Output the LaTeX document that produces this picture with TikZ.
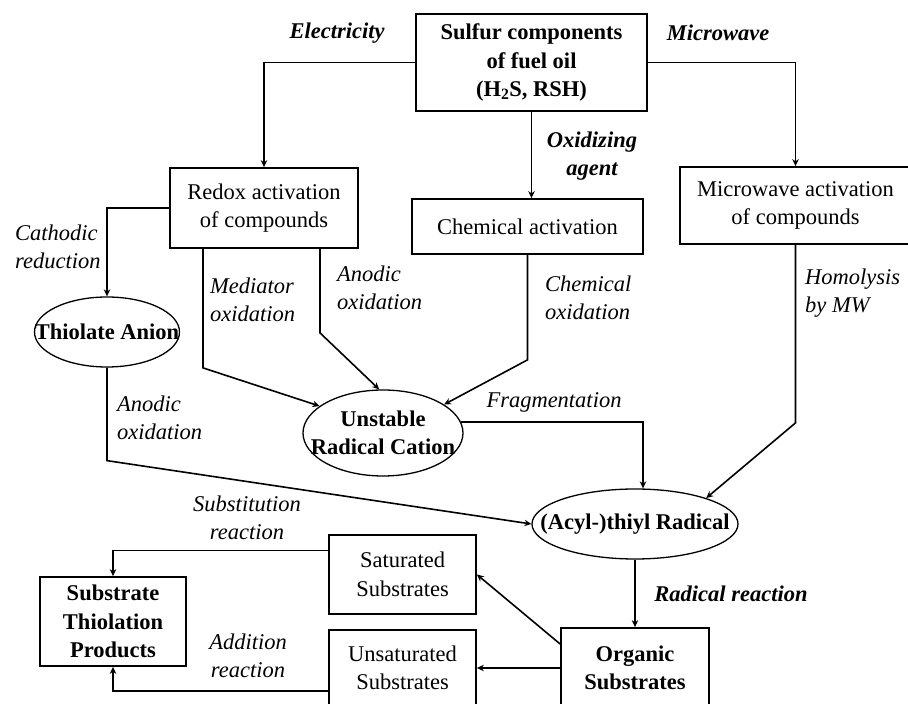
\documentclass[tikz,border=0pt]{standalone}
\usepackage{fontspec}
\setmainfont{Liberation Serif}
\usetikzlibrary{shapes.geometric,arrows.meta}

\begin{document}
\begin{tikzpicture}[
    x=1pt, y=1pt,
    >={Stealth[length=7pt,width=6.5pt]},
    every node/.style={font=\fontsize{22.5}{28.5}\selectfont},
    procbox/.style={
        draw,
        line width=1.8pt,
        align=center,
        inner sep=2pt
    },
    boldbox/.style={
        procbox,
        font=\fontsize{22.5}{28.5}\selectfont\bfseries
    },
    statenode/.style={
        draw,
        ellipse,
        line width=1.3pt,
        align=center,
        inner xsep=-22pt,
        inner ysep=0pt,
        font=\fontsize{22.5}{28.5}\selectfont\bfseries
    },
    lbl/.style={align=left, inner sep=2pt, font=\fontsize{22.5}{28.5}\selectfont\itshape},
    blbl/.style={align=center, inner sep=2pt, font=\fontsize{22.5}{28.5}\selectfont\bfseries\itshape},
    arr/.style={->, line width=1.6pt}
]
    \useasboundingbox (0,0) rectangle (908,704);
    \clip (0,0) rectangle (908,704);
    \fill[white] (0,0) rectangle (908,704);

    % Source and activation boxes
    \node[boldbox, minimum width=231pt, minimum height=97pt] (sulfur) at (531.5,641.5)
        {Sulfur components\\ of fuel oil\\ (H\textsubscript{2}S, RSH)};

    \node[procbox, minimum width=188pt, minimum height=80pt] (redox) at (264,496)
        {Redox activation\\ of compounds};

    \node[procbox, minimum width=231pt, minimum height=55pt] (chem) at (527.5,477.5)
        {Chemical activation};

    \node[procbox, minimum width=231pt, minimum height=77pt] (micro) at (795.5,498.5)
        {Microwave activation\\ of compounds};

    % Intermediates
    \node[statenode, minimum width=145pt, minimum height=70pt] (anion) at (107,372)
        {Thiolate Anion};

    \node[statenode, minimum width=160pt, minimum height=86pt] (cation) at (383,271)
        {Unstable\\ Radical Cation};

    \node[statenode, minimum width=206pt, minimum height=70pt] (thiyl) at (635,180)
        {(Acyl-)thiyl Radical};

    % Substrates and products
    \node[boldbox, minimum width=148pt, minimum height=80pt] (organic) at (635,36)
        {Organic\\ Substrates};

    \node[procbox, minimum width=147pt, minimum height=79pt] (sat) at (402.5,129.5)
        {Saturated\\ Substrates};

    \node[procbox, minimum width=147pt, minimum height=76pt] (unsat) at (402.5,36)
        {Unsaturated\\ Substrates};

    \node[boldbox, minimum width=146pt, minimum height=89pt] (thiolation) at (113,82.5)
        {Substrate\\ Thiolation\\ Products};

    % Activation arrows
    \draw[arr] (sulfur.west) -| (redox.north);
    \draw[arr] (sulfur.east) -| (micro.north);
    \draw[arr] (sulfur.south) -- (sulfur.south |- chem.north);

    % Arrows to the intermediates
    \draw[arr] (redox.west) -| (anion.north);
    \draw[arr] ([xshift=-61pt]redox.south) -- ++(0,-119) -- (cation.157);
    \draw[arr] ([xshift=56pt]redox.south) -- ++(0,-84) -- (cation.95);
    \draw[arr] (chem.south) -- ++(0,-105) -- (cation.25);
    \draw[arr] (cation.8) -| ([xshift=8pt]thiyl.north);
    \draw[arr] (micro.south) -- ++(0,-178) -- (thiyl.20);
    \draw[arr] (anion.south) -- ++(0,-93) -- (thiyl.west);

    % Reactions with the substrates
    \draw[arr] (thiyl.south) -- (organic.north);
    \draw[arr] ([yshift=24pt]organic.west) -- (sat.east);
    \draw[arr] (organic.west) -- (unsat.east);
    \draw[arr] ([yshift=24pt]sat.west) -| (thiolation.north);
    \draw[arr] ([yshift=-23pt]unsat.west) -| (thiolation.south);

    % Labels on the arrows
    \node[blbl] (electricity) at (337,671) {Electricity};
    \node[blbl] (microwave) at (718,671) {Microwave};
    \node[blbl] (oxidizing) at (592,548) {Oxidizing\\ agent};
    \node[lbl, anchor=west] (cathodic) at (13,457) {Cathodic\\ reduction};
    \node[lbl, anchor=west] (mediator) at (208,404) {Mediator\\ oxidation};
    \node[lbl, anchor=west] (anodicup) at (335,416) {Anodic\\ oxidation};
    \node[lbl, anchor=west] (chemox) at (543,406) {Chemical\\ oxidation};
    \node[lbl, anchor=west] (homolysis) at (803,411) {Homolysis\\ by MW};
    \node[lbl, anchor=west] (anodiclow) at (115,286) {Anodic\\ oxidation};
    \node[lbl] (fragment) at (554,302) {Fragmentation};
    \node[lbl, align=center] (substitution) at (247,186) {Substitution\\ reaction};
    \node[blbl] (radical) at (731,110) {Radical reaction};
    \node[lbl, align=center] (addition) at (248,48) {Addition\\ reaction};

\end{tikzpicture}
\end{document}
